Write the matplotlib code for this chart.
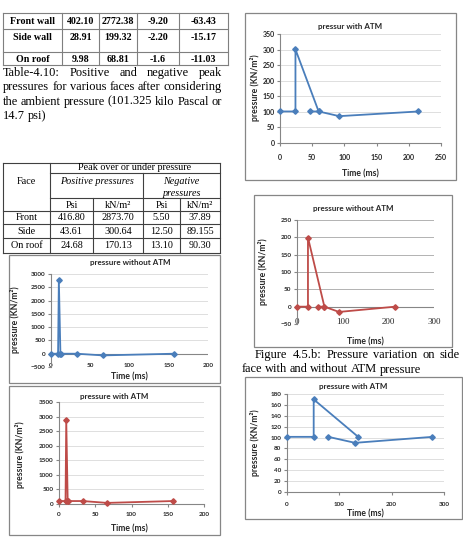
import matplotlib.pyplot as plt
import numpy as np

W, H = 463, 538

# ---- table values ----
t1_faces = ["Front wall", "Side wall", "On roof"]
t1_pos_psi = ["402.10", "28.91", "9.98"]
t1_pos_kn = ["2772.38", "199.32", "68.81"]
t1_neg_psi = ["-9.20", "-2.20", "-1.6"]
t1_neg_kn = ["-63.43", "-15.17", "-11.03"]

t2_faces = ["Front", "Side", "On roof"]
t2_pos_psi = ["416.80", "43.61", "24.68"]
t2_pos_kn = ["2873.70", "300.64", "170.13"]
t2_neg_psi = ["5.50", "12.50", "13.10"]
t2_neg_kn = ["37.89", "89.155", "90.30"]

# ---- pressure histories, time (ms) vs pressure (kN/m2) ----
# "a" = rise and decay of the peak, "b" = the negative phase (drawn as its own line)
front_time_a = [0, 9, 10, 12]
front_time_b = [13, 33, 66, 157]
front_p_a = [0, 0, 2772.4, 0]
front_p_b = [0, 0, -63.4, 0]
front_atm_a = [101.3, 101.3, 2873.7, 101.3]
front_atm_b = [101.3, 101.3, 37.9, 101.3]

side_time_a = [0, 24, 24, 60]
side_time_b = [46, 60, 92, 215]
side_p_a = [0, 0, 199.3, 0]
side_p_b = [0, 0, -15.2, 0]
side_atm_a = [101.3, 101.3, 300.6, 101.3]
side_atm_b = [101.3, 101.3, 86.2, 101.3]

roof_time_a = [0, 51, 51, 136]
roof_time_b = [79, 130, 278]
roof_atm_a = [101.3, 101.3, 170.1, 101.3]
roof_atm_b = [101.3, 90.3, 101.3]

caption_left = [
    "Table-4.10: Positive and negative peak",
    "pressures for various faces after considering",
    "the ambient pressure (101.325 kilo Pascal or",
    "14.7 psi)",
]
caption_right = [
    "Figure 4.5.b: Pressure variation on side",
    "face with and without ATM pressure",
]

BLUE = "#4a7ebb"
RED = "#be4b48"
GRID = "#d9d9d9"
AXC = "#868686"
TXT = "#262626"
SANS = ["Lato", "DejaVu Sans"]
SERIF = ["Liberation Serif", "DejaVu Serif"]

plt.rcParams["font.family"] = SANS

fig = plt.figure(figsize=(W / 100, H / 100), dpi=100)
page = fig.add_axes([0, 0, 1, 1], zorder=0)
page.set_xlim(0, W)
page.set_ylim(H, 0)
page.axis("off")
renderer = fig.canvas.get_renderer()


def justify(lines, x0, x1, y0, step, indent=0, size=8.9):
    for i, line in enumerate(lines):
        y = y0 + i * step
        start = x0 + (indent if i == 0 else 0)
        words = line.split()
        txts = [page.text(0, y, w, family=SERIF, fontsize=size, va="center", color="black")
                for w in words]
        widths = [t.get_window_extent(renderer).width for t in txts]
        last = i == len(lines) - 1
        gap = 2.6 if last else (x1 - start - sum(widths)) / (len(words) - 1)
        x = start
        for t, w in zip(txts, widths):
            t.set_x(x)
            x += w + gap


def grid_table(col_x, row_y, color, lw=0.8):
    for x in col_x:
        page.plot([x, x], [row_y[0], row_y[-1]], color=color, lw=lw)
    for y in row_y:
        page.plot([col_x[0], col_x[-1]], [y, y], color=color, lw=lw)


# ---- table 4.10 (top left) ----
c1 = [3, 62, 99, 137, 179, 228]
r1 = [13, 29, 52, 65]
grid_table(c1, r1, "#7f7f7f")
rows1 = [t1_faces, t1_pos_psi, t1_pos_kn, t1_neg_psi, t1_neg_kn]
text_y1 = [21, 37, 59]
for j, col in enumerate(rows1):
    for i, val in enumerate(col):
        page.text((c1[j] + c1[j + 1]) / 2, text_y1[i], val, family=SERIF, fontsize=7.2,
                  weight="bold", ha="center", va="center")

justify(caption_left, 3, 222, 73, 14.3)

# ---- second table ----
c2 = [3, 50, 93, 143, 180, 220]
r2 = [163, 173, 198, 211, 224, 238, 253]
lc = "#404040"
for x in (3, 50, 220):
    page.plot([x, x], [163, 253], color=lc, lw=0.8)
page.plot([143, 143], [173, 253], color=lc, lw=0.8)
for x in (93, 180):
    page.plot([x, x], [198, 253], color=lc, lw=0.8)
page.plot([3, 220], [163, 163], color=lc, lw=0.8)
page.plot([50, 220], [173, 173], color=lc, lw=0.8)
page.plot([50, 220], [198, 198], color=lc, lw=0.8)
for y in r2[3:]:
    page.plot([3, 220], [y, y], color=lc, lw=0.8)

tk = dict(family=SERIF, fontsize=7.3, ha="center", va="center")
page.text(26.5, 181, "Face", **tk)
page.text(135, 168, "Peak over or under pressure", **tk)
page.text(96.5, 182, "Positive pressures", style="italic", **tk)
page.text(181.5, 182, "Negative", style="italic", **tk)
page.text(181.5, 193, "pressures", style="italic", **tk)
for j, head in enumerate(["Psi", "kN/m²", "Psi", "kN/m²"]):
    page.text((c2[j + 1] + c2[j + 2]) / 2, 205, head, **tk)
rows2 = [t2_faces, t2_pos_psi, t2_pos_kn, t2_neg_psi, t2_neg_kn]
for j, col in enumerate(rows2):
    for i, val in enumerate(col):
        page.text((c2[j] + c2[j + 1]) / 2, (r2[3 + i] + r2[4 + i]) / 2, val, **tk)

justify(caption_right, 242, 460, 355, 14.5, indent=13)


# ---- charts ----
def chart(frame, box, title, title_xy, xlab_xy, ylab_xy, color, series,
          xlim, xticks, ylim, yticks, grid=GRID, xpad=1.5, xfont=None, tsize=4.6):
    fx0, fx1, fy0, fy1 = frame
    page.add_patch(plt.Rectangle((fx0, fy0), fx1 - fx0, fy1 - fy0, fill=False,
                                 ec=AXC, lw=0.9))
    x0, x1, yt, yb = box
    ax = fig.add_axes([x0 / W, 1 - yb / H, (x1 - x0) / W, (yb - yt) / H], zorder=2)
    ax.set_facecolor("none")
    for t, p in series:
        ax.plot(t, p, color=color, lw=1.3, marker="D", ms=2.8, clip_on=False, zorder=3)
    ax.set_xlim(xlim)
    ax.set_ylim(ylim)
    ax.set_xticks(xticks)
    ax.set_yticks(yticks)
    ax.grid(axis="y", color=grid, lw=0.6)
    ax.set_axisbelow(True)
    for s in ("top", "right"):
        ax.spines[s].set_visible(False)
    ax.spines["left"].set_color(AXC)
    ax.spines["left"].set_linewidth(0.8)
    if ylim[0] < 0:
        ax.spines["bottom"].set_visible(False)
        ax.axhline(0, color=AXC, lw=0.8, zorder=1)
        ax.tick_params(axis="x", length=0, pad=xpad)
    else:
        ax.spines["bottom"].set_color(AXC)
        ax.spines["bottom"].set_linewidth(0.8)
        ax.tick_params(axis="x", length=2, pad=xpad, color=AXC)
    ax.tick_params(axis="y", length=2, pad=2, color=AXC)
    ax.tick_params(labelsize=tsize, labelcolor=TXT)
    for lb in ax.get_yticklabels() + ax.get_xticklabels():
        lb.set_fontweight("bold")
    if xfont:
        for lb in ax.get_xticklabels():
            lb.set_family(xfont)
            lb.set_fontweight("normal")
            lb.set_fontsize(6.5)
    page.text(*title_xy, title, fontsize=5.8, weight="bold", ha="center", va="center",
              color=TXT)
    page.text(*xlab_xy, "Time (ms)", fontsize=6.2, weight="bold", ha="center",
              va="center", color=TXT)
    page.text(*ylab_xy, "pressure (KN/m²)", fontsize=6.2, weight="bold", ha="center",
              va="center", rotation=90, color=TXT)
    return ax


# front face, without ATM
chart((9, 220, 255, 383), (51, 208, 274, 367), "pressure without ATM", (130, 263),
      (129, 377), (15, 320), BLUE,
      [(front_time_a, front_p_a), (front_time_b, front_p_b)],
      (0, 200), np.arange(0, 201, 50), (-500, 3000), np.arange(-500, 3001, 500),
      xpad=-3)

# front face, with ATM
chart((9, 220, 386, 535), (59, 204, 402, 504), "pressure with ATM", (114, 396),
      (129, 529), (20, 455), RED,
      [(front_time_a, front_atm_a), (front_time_b, front_atm_b)],
      (0, 200), np.arange(0, 201, 50), (0, 3500), np.arange(0, 3501, 500), xpad=4)

# side face, with ATM
chart((245, 456, 13, 180), (280, 441, 34, 143), "pressur with ATM", (350, 27),
      (360, 174), (255, 88), BLUE,
      [(side_time_a, side_atm_a), (side_time_b, side_atm_b)],
      (0, 250), np.arange(0, 251, 50), (0, 350), np.arange(0, 351, 50), xpad=6,
      tsize=5)

# side face, without ATM
chart((254, 452, 195, 347), (297, 434, 220, 324), "pressure without ATM", (353, 208),
      (365, 342), (263, 272), RED,
      [(side_time_a, side_p_a), (side_time_b, side_p_b)],
      (0, 300), np.arange(0, 301, 100), (-50, 250), np.arange(-50, 251, 50),
      grid="#a6a6a6", xpad=-4, xfont=SERIF)

# roof, with ATM
chart((245, 462, 377, 519), (287, 444, 394, 492), "pressure with ATM", (353, 387),
      (365, 514), (255, 443), BLUE,
      [(roof_time_a, roof_atm_a), (roof_time_b, roof_atm_b)],
      (0, 300), np.arange(0, 301, 100), (0, 180), np.arange(0, 181, 20), xpad=5)

fig.savefig("out.png", dpi=100)
